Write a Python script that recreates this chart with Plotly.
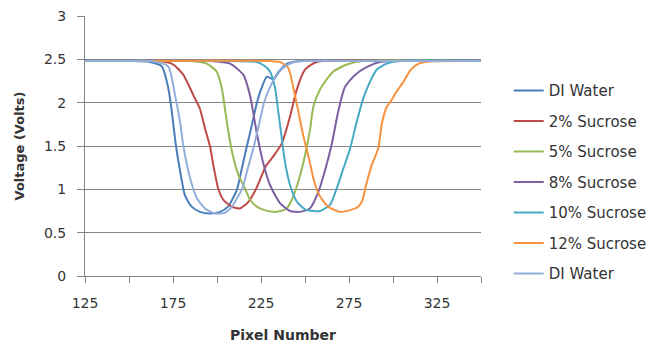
import plotly.graph_objects as go

# ---- data ----
series_names = ["DI Water", "2% Sucrose", "5% Sucrose", "8% Sucrose",
                "10% Sucrose", "12% Sucrose", "DI Water"]
series_colors = ["#4A7EBB", "#BE4B48", "#98B954", "#7D60A0",
                 "#46AAC5", "#F69240", "#94AEDA"]

x_di1 = [125, 150, 161.9, 168.6, 172.3, 174.3, 176.7, 179.4, 181.8, 185.6, 190.3, 196,
         201.7, 206.3, 209.1, 211.4, 214.2, 217, 219.9, 222.7, 225.5, 228.4, 231.8,
         235.2, 239.8, 247.2, 300, 350]
y_di1 = [2.48, 2.48, 2.47, 2.42, 2.17, 1.90, 1.50, 1.17, 0.93, 0.80, 0.74, 0.72,
         0.74, 0.80, 0.90, 1.00, 1.25, 1.50, 1.75, 2.00, 2.18, 2.30, 2.27,
         2.36, 2.45, 2.48, 2.48, 2.48]

x_s2 = [125, 160, 167.6, 175.2, 180.9, 186.5, 190.3, 193.2, 196, 197.9, 200.7, 203.6,
        208.3, 213, 217.6, 221.6, 224.4, 227.8, 232, 236.8, 241.5, 245.3, 250, 256.6,
        300, 350]
y_s2 = [2.48, 2.48, 2.48, 2.44, 2.32, 2.09, 1.93, 1.70, 1.50, 1.28, 1.01, 0.88,
        0.80, 0.78, 0.85, 0.98, 1.11, 1.27, 1.38, 1.53, 1.84, 2.15, 2.38, 2.47,
        2.48, 2.48]

x_s5 = [125, 175, 184.7, 194.1, 199.8, 202.7, 204.5, 206.4, 208.9, 212.1, 215.9, 218.8,
        222.6, 227, 232, 236, 239.6, 242.5, 245.3, 249, 252.8, 254.7, 258.5, 262,
        266.1, 273.7, 283, 350]
y_s5 = [2.48, 2.48, 2.48, 2.45, 2.36, 2.17, 1.93, 1.67, 1.40, 1.17, 1.01, 0.88,
        0.80, 0.76, 0.74, 0.75, 0.78, 0.88, 1.03, 1.30, 1.68, 1.95, 2.15, 2.26,
        2.36, 2.44, 2.48, 2.48]

x_s8 = [125, 195, 207.4, 215, 218.8, 222.6, 226.3, 230.1, 235.8, 241.5, 247.2, 252.8,
        257.6, 261.4, 265.2, 268.9, 272.7, 278.4, 285, 292.6, 350]
y_s8 = [2.48, 2.48, 2.45, 2.32, 2.08, 1.65, 1.30, 1.05, 0.84, 0.75, 0.74, 0.78,
        0.97, 1.22, 1.52, 1.90, 2.18, 2.32, 2.41, 2.47, 2.48]

x_s10 = [125, 210, 222.6, 227.3, 230.1, 233, 234.8, 236.8, 238.6, 241.5, 245.3, 250,
         254.7, 258.5, 264.2, 268, 271.8, 275.6, 279.4, 283.1, 286.9, 290.7, 296.4,
         304, 350]
y_s10 = [2.48, 2.48, 2.47, 2.42, 2.36, 2.17, 1.90, 1.59, 1.32, 1.05, 0.86, 0.77,
         0.75, 0.75, 0.82, 1.01, 1.24, 1.47, 1.78, 2.05, 2.24, 2.38, 2.45,
         2.48, 2.48]

x_s12 = [125, 230, 235.8, 240.5, 243.4, 246.2, 249, 252.3, 255.1, 258.5, 263.2, 269.9,
         275.6, 279.5, 282.4, 284.7, 287.9, 291.6, 293.6, 296.4, 298.9, 302.1, 305.9,
         309.7, 313.5, 318.2, 350]
y_s12 = [2.48, 2.48, 2.47, 2.40, 2.17, 1.90, 1.62, 1.35, 1.10, 0.92, 0.80, 0.74,
         0.76, 0.79, 0.86, 1.05, 1.28, 1.47, 1.75, 1.95, 2.02, 2.13, 2.24,
         2.37, 2.44, 2.47, 2.48]

x_di2 = [125, 150, 161.9, 172.2, 176.1, 179, 180.9, 184.7, 188.5, 193.2, 198.9, 204.5,
         208.5, 211.4, 214.2, 217.6, 221, 223.9, 226.7, 230.1, 233.5, 237.5, 242.6,
         250, 300, 350]
y_di2 = [2.48, 2.48, 2.48, 2.42, 2.09, 1.78, 1.50, 1.13, 0.90, 0.78, 0.72, 0.73,
         0.80, 0.90, 1.00, 1.25, 1.50, 1.75, 2.00, 2.18, 2.30, 2.40, 2.46,
         2.48, 2.48, 2.48]

series_x = [x_di1, x_s2, x_s5, x_s8, x_s10, x_s12, x_di2]
series_y = [y_di1, y_s2, y_s5, y_s8, y_s10, y_s12, y_di2]

x_range = [125, 350]
y_range = [0, 3]

FONT = "DejaVu Sans"
TXT = "#333333"
AX = "#868686"

fig = go.Figure()
for i, (name, col, xs, ys) in enumerate(zip(series_names, series_colors, series_x, series_y)):
    fig.add_trace(go.Scatter(
        x=xs, y=ys, name=name, mode="lines",
        line=dict(color=col, width=2, shape="spline", smoothing=0.6),
        legendgroup=f"g{i}",
    ))

fig.update_layout(
    width=653, height=345,
    margin=dict(l=85, r=172, t=16, b=69, autoexpand=False),
    paper_bgcolor="white", plot_bgcolor="white",
    font=dict(family=FONT, size=14, color=TXT),
    showlegend=True,
    legend=dict(x=1.070, xanchor="left", y=0.776, yanchor="top",
                font=dict(family=FONT, size=15, color=TXT),
                tracegroupgap=8, traceorder="grouped",
                bgcolor="rgba(0,0,0,0)"),
    xaxis=dict(range=x_range, tick0=125, dtick=50, ticks="outside", ticklen=6,
               tickcolor=AX, showline=True, linecolor=AX, linewidth=1,
               showgrid=False, zeroline=False, ticklabelstandoff=8,
               minor=dict(dtick=25, tick0=125, ticks="outside", ticklen=6, tickcolor=AX, showgrid=False),
               tickfont=dict(family=FONT, size=14, color=TXT),
               title=dict(text="<b>Pixel Number</b>", standoff=20,
                          font=dict(family=FONT, size=14, color=TXT))),
    yaxis=dict(range=y_range, tick0=0, dtick=0.5, ticks="outside", ticklen=7,
               tickcolor=AX, showline=True, linecolor=AX, linewidth=1,
               showgrid=True, gridcolor=AX, gridwidth=1, zeroline=False,
               ticklabelstandoff=8,
               tickfont=dict(family=FONT, size=14, color=TXT),
               title=dict(text="<b>Voltage (Volts)</b>", standoff=16,
                          font=dict(family=FONT, size=13, color=TXT))),
)

fig.write_html("out.html")
